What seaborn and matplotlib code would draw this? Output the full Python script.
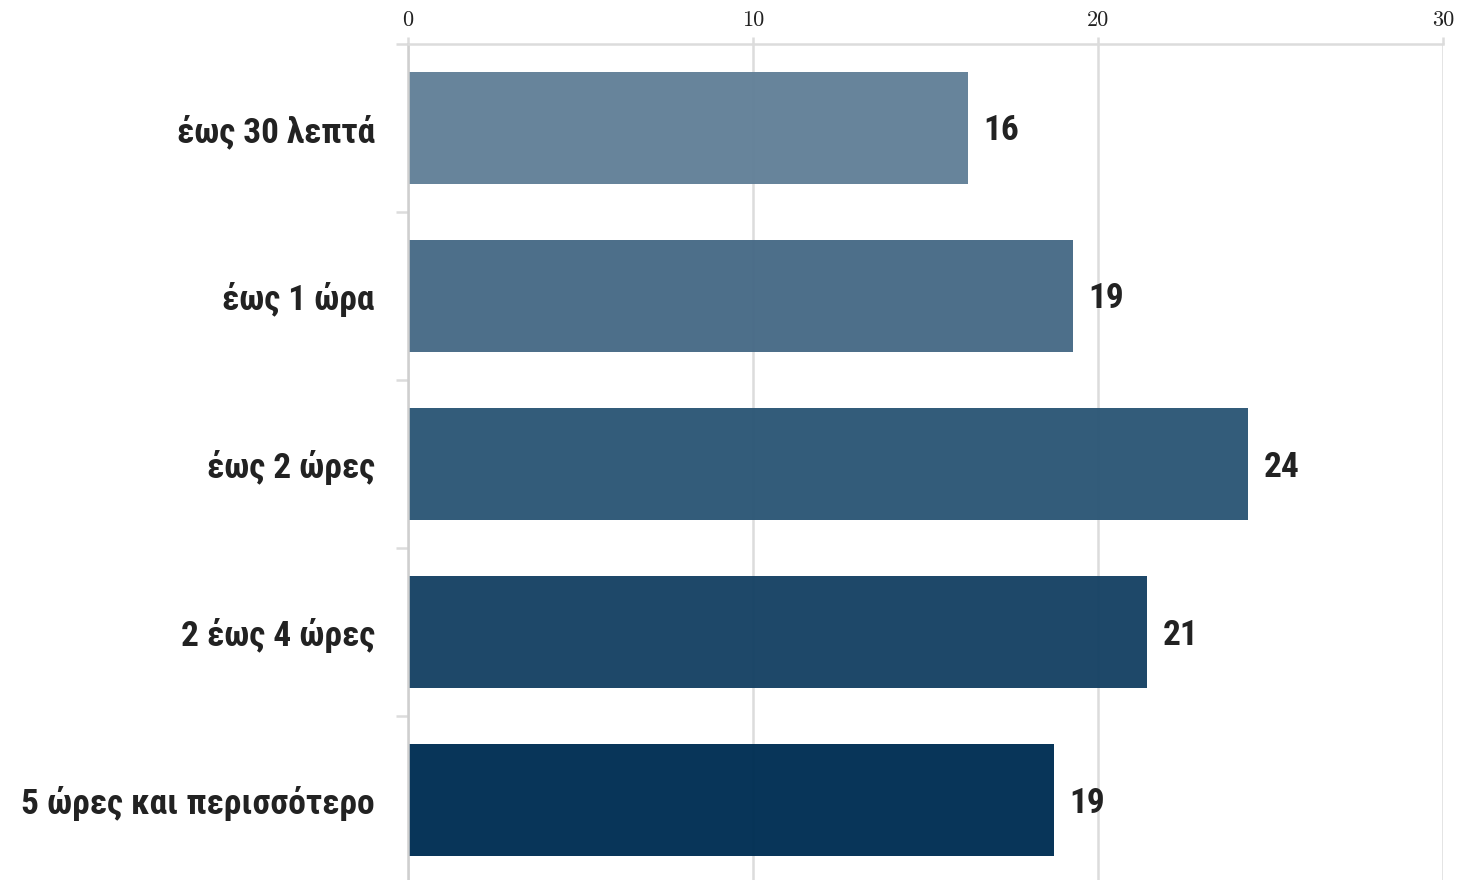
import matplotlib
matplotlib.use("Agg")
import matplotlib.pyplot as plt
import matplotlib.transforms as mtrans
import seaborn as sns
import pandas as pd
import numpy as np

categories = ["έως 30 λεπτά", "έως 1 ώρα", "έως 2 ώρες", "2 έως 4 ώρες", "5 ώρες και περισσότερο"]
values = [16.23, 19.28, 24.35, 21.42, 18.72]
labels = ["16", "19", "24", "21", "19"]
colors = ["#628098", "#476a86", "#2c5776", "#164264", "#002e53"]
xticks = [0, 10, 20, 30]

sns.set_theme(style="white")
label_font = ["Liberation Sans Narrow", "Roboto Condensed", "DejaVu Sans"]
tick_font = ["cmr10", "DejaVu Serif"]

fig = plt.figure(figsize=(14.6, 8.8), dpi=100)
ax = fig.add_axes([408/1460, -4/880, (1443-408)/1460, 840/880])

df = pd.DataFrame({"cat": categories, "val": values})
sns.barplot(data=df, x="val", y="cat", hue="cat", palette=colors, legend=False,
            orient="h", width=0.667, ax=ax, alpha=0.97, saturation=1,
            linewidth=0, zorder=2)

ax.set_xlim(0, 30)
ax.set_ylim(4.5, -0.5)
ax.set_xlabel("")
ax.set_ylabel("")

ax.set_axisbelow(True)
for xv in xticks:
    ax.axvline(xv, color="#dcdcdc", lw=1.8, zorder=1)

ax.xaxis.tick_top()
ax.set_xticks(xticks)
ax.set_xticklabels([str(t) for t in xticks], fontfamily=tick_font, fontsize=16, color="#222222")
ax.tick_params(axis="x", which="major", length=5, width=1.8, color="#dcdcdc", pad=5, top=True, bottom=False)

ax.set_yticks(range(len(categories)))
ax.set_yticklabels(categories, fontfamily=label_font, fontsize=25.5, fontweight="bold", color="#222222")
ax.set_yticks(np.arange(-0.5, len(categories), 1.0), minor=True)
ax.tick_params(axis="y", which="major", length=0, pad=24)
ax.tick_params(axis="y", which="minor", length=9, width=1.8, color="#dcdcdc", left=True)

for s in ["right", "bottom"]:
    ax.spines[s].set_visible(False)
ax.spines["top"].set_color("#dcdcdc")
ax.spines["top"].set_linewidth(1.8)
ax.spines["left"].set_color("#cfcfcf")
ax.spines["left"].set_linewidth(1.8)

offset = mtrans.offset_copy(ax.transData, fig=fig, x=0, y=-3, units="dots")
for i, (v, lab) in enumerate(zip(values, labels)):
    ax.text(v + 0.45, i, lab, va="center", ha="left", fontfamily=label_font,
            fontsize=25.5, fontweight="bold", color="#222222", zorder=3, transform=offset)

fig.savefig("out.png", dpi=100)
